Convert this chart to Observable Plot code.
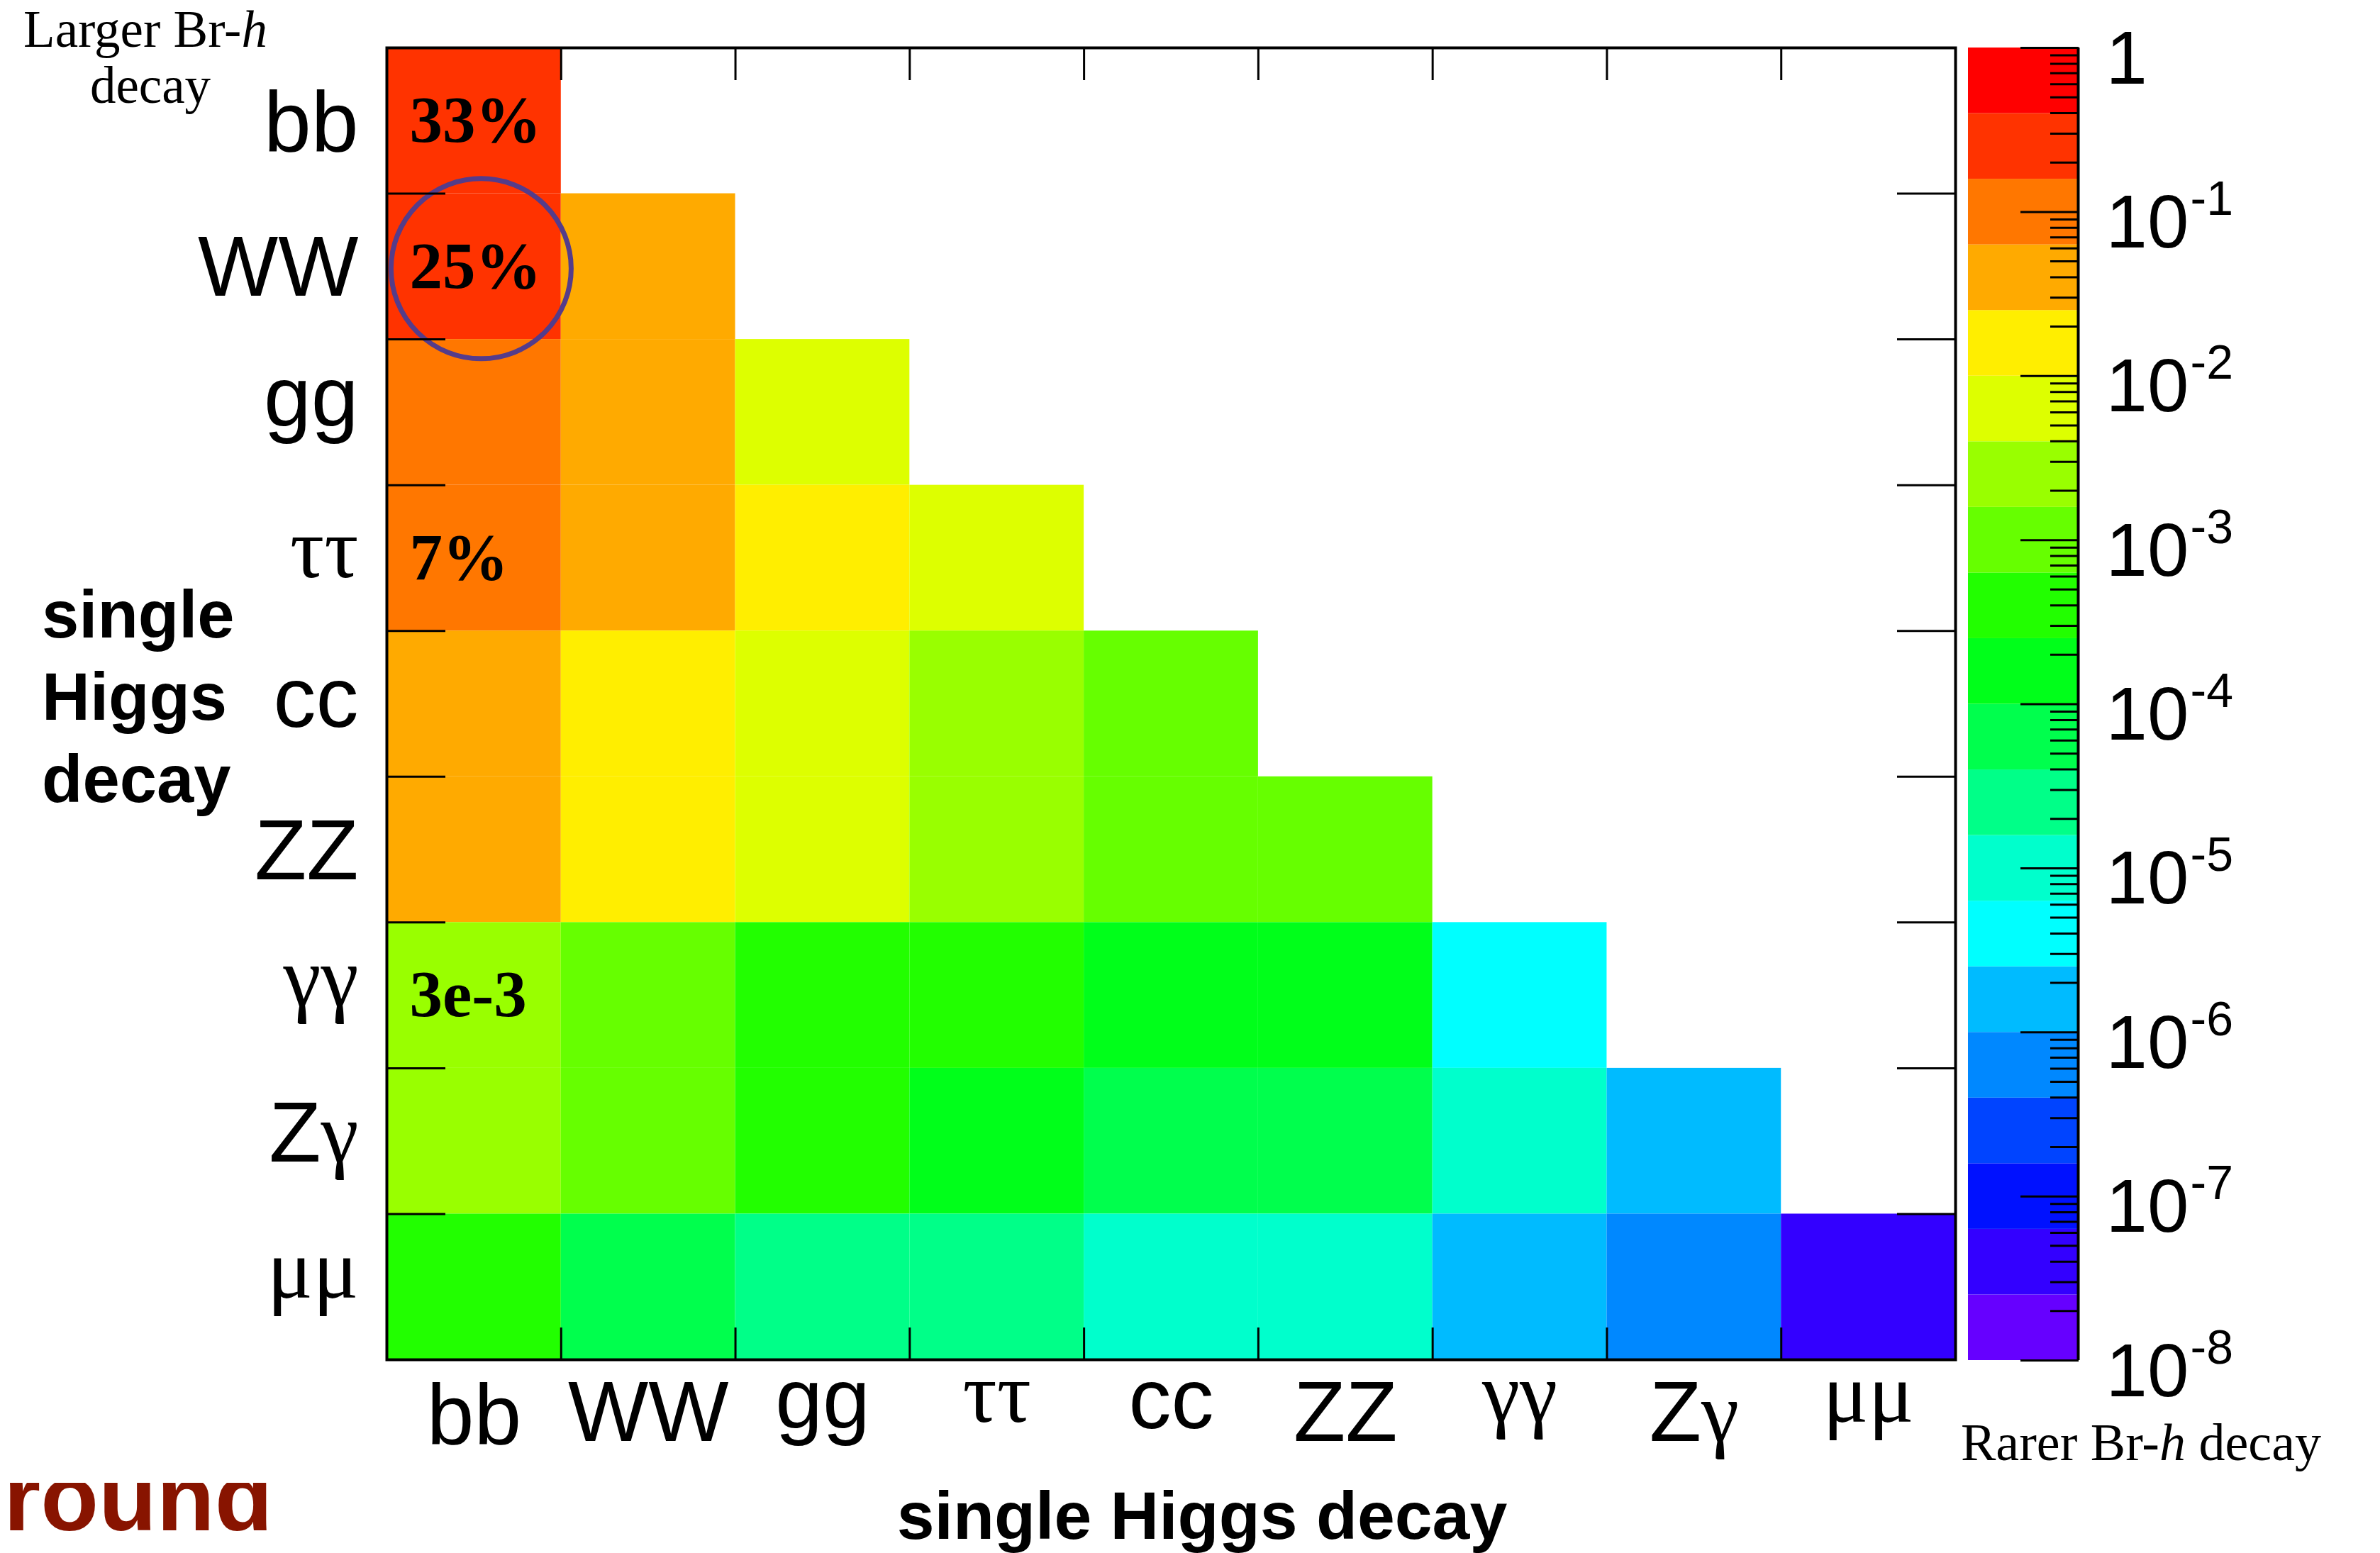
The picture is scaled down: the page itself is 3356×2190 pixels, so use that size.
<!DOCTYPE html>
<html><head><meta charset="utf-8">
<script src="https://cdn.jsdelivr.net/npm/d3@7"></script>
<script src="https://cdn.jsdelivr.net/npm/@observablehq/plot@0.6"></script>
<style>
html,body{margin:0;padding:0;background:#fff;}
#wrap{position:relative;width:3356px;height:2190px;overflow:hidden;background:#fff;}
#wrap svg{position:absolute;left:0;top:0;max-width:none;}
</style></head><body><div id="wrap"></div>
<script>
// ---- data ----
const categories = ["bb","WW","gg","ττ","cc","ZZ","γγ","Zγ","μμ"];
const rowBB     = [0.33];
const rowWW     = [0.25, 0.046];
const rowGG     = [0.095, 0.035, 0.0067];
const rowTauTau = [0.073, 0.027, 0.0103, 0.0042];
const rowCC     = [0.034, 0.0125, 0.0048, 0.0037, 0.00084];
const rowZZ     = [0.030, 0.0112, 0.0043, 0.0033, 0.0015, 0.00068];
const rowGamGam = [0.0027, 0.00099, 0.00038, 0.00029, 0.000133, 0.00012, 0.0000053];
const rowZGam   = [0.0018, 0.00065, 0.00026, 0.00019, 0.000087, 0.000078, 0.0000069, 0.00000225];
const rowMuMu   = [0.000255, 0.000095, 0.000036, 0.000028, 0.0000128, 0.000011, 0.00000105, 0.00000066, 0.000000048];
const cellLabels = [
  {row: 0, col: 0, text: "33%"},
  {row: 1, col: 0, text: "25%"},
  {row: 3, col: 0, text: "7%"},
  {row: 6, col: 0, text: "3e-3"}
];
const circled = [{row: 1, col: 0}];
// colour bins: log10 edges and colours (low -> high)
const binEdgeExponents = [-8,-7.6,-7.2,-6.8,-6.4,-6,-5.6,-5.2,-4.8,-4.4,-4,-3.6,-3.2,-2.8,-2.4,-2,-1.6,-1.2,-0.8,-0.4,0];
const binColors = ["#6600ff","#3300ff","#0011ff","#0044ff","#0088ff","#00bbff","#00ffff","#00ffcc","#00ff88","#00ff4d",
                   "#00ff1a","#22ff00","#66ff00","#99ff00","#ddff00","#ffee00","#ffaa00","#ff7700","#ff3300","#ff0000"];
const colorbarDecades = [0,-1,-2,-3,-4,-5,-6,-7,-8];
const minorMultipliers = [2,3,4,5,6,7,8,9];

// ---- build ----
const rows = [rowBB,rowWW,rowGG,rowTauTau,rowCC,rowZZ,rowGamGam,rowZGam,rowMuMu];
const cells = rows.flatMap((vals,i)=>vals.map((v,j)=>({row:i,col:j,value:v})));
const thresholds = binEdgeExponents.slice(1,-1).map(e=>Math.pow(10,e));
const colorScale = {type:"threshold", domain: thresholds, range: binColors};
const boundaries = d3.range(1, categories.length);
const n = categories.length;
const W = 3356, H = 2190;

const main = Plot.plot({
  width: W, height: H,
  marginTop: 67, marginBottom: 273, marginLeft: 545, marginRight: 599,
  x: {domain: [0, n]},
  y: {domain: [0, n], reverse: true},
  color: colorScale,
  style: {background: "transparent", fontFamily: "Liberation Sans", color: "black"},
  marks: [
    Plot.rect(cells, {x1: "col", x2: d=>d.col+1, y1: "row", y2: d=>d.row+1, fill: "value"}),
    Plot.text(cellLabels, {x: "col", y: d=>d.row+0.5, text: "text", dx: 32, textAnchor: "start",
      fontFamily: "Liberation Serif", fontWeight: "bold", fontSize: 93, fill: "black"}),
    Plot.dot(circled, {x: d=>d.col+0.5, y: d=>d.row+0.5, r: 127, dx: 10, dy: 3,
      stroke: "#553c8a", strokeWidth: 7, fill: "none"}),
    Plot.frame({stroke: "black", strokeWidth: 4}),
    Plot.axisX(boundaries, {anchor: "top", tickSize: 45, dy: 45, strokeWidth: 3, fill: "none", label: null}),
    Plot.axisX(boundaries, {anchor: "bottom", tickSize: 45, dy: -45, strokeWidth: 3, fill: "none", label: null}),
    Plot.axisY(boundaries, {anchor: "left", tickSize: 83, dx: 83, strokeWidth: 3, fill: "none", label: null}),
    Plot.axisY(boundaries, {anchor: "right", tickSize: 83, dx: -83, strokeWidth: 3, fill: "none", label: null}),
    Plot.text(categories, {x: (d,i)=>i+0.5, frameAnchor: "bottom", text: d=>d, textAnchor: "middle",
      fontSize: 120, fill: "black"}),
    Plot.text(categories, {y: (d,i)=>i+0.5, frameAnchor: "left", text: d=>d, textAnchor: "end", dx: -40,
      fontSize: 120, fill: "black"})
  ]
});

const cbBins = binColors.map((c,k)=>({lo: Math.pow(10,binEdgeExponents[k]), hi: Math.pow(10,binEdgeExponents[k+1])}));
const minorTicks = colorbarDecades.slice(1).flatMap(e=>minorMultipliers.map(m=>m*Math.pow(10,e)));
const decadeTicks = colorbarDecades.map(e=>Math.pow(10,e));

const cbar = Plot.plot({
  width: W, height: H,
  marginTop: 67, marginBottom: 272, marginLeft: 2775, marginRight: 426,
  x: {domain: [0, 1], axis: null},
  y: {type: "log", domain: [1e-8, 1]},
  color: colorScale,
  style: {background: "transparent", fontFamily: "Liberation Sans", color: "black"},
  marks: [
    Plot.rect(cbBins, {x1: 0, x2: 1, y1: "lo", y2: "hi", fill: d=>Math.sqrt(d.lo*d.hi)}),
    Plot.axisY(decadeTicks, {anchor: "right", tickSize: 82, dx: -82, strokeWidth: 3, fill: "none", label: null}),
    Plot.axisY(minorTicks, {anchor: "right", tickSize: 40, dx: -40, strokeWidth: 3, fill: "none", label: null}),
    Plot.ruleX([1], {stroke: "black", strokeWidth: 4}),
    Plot.text(colorbarDecades, {y: e=>Math.pow(10,e), frameAnchor: "right", text: e=> e===0 ? "1" : "10",
      textAnchor: "start", lineAnchor: "bottom", dx: 39, dy: 50, fontSize: 105, fill: "black"}),
    Plot.text(colorbarDecades.filter(e=>e!==0), {y: e=>Math.pow(10,e), frameAnchor: "right", text: e=>String(e),
      textAnchor: "start", lineAnchor: "bottom", dx: 158, dy: 4, fontSize: 68, fill: "black"})
  ]
});

const wrap = document.getElementById("wrap");
wrap.appendChild(main);
wrap.appendChild(cbar);

// ---- label post-processing: Greek runs in serif, ink-based alignment ----
const canvas = document.createElement("canvas");
const ctx = canvas.getContext("2d");
const SVGNS = "http://www.w3.org/2000/svg";
function styleLabel(el, size, mode, gap) {
  const s = el.textContent;
  const runs = s.match(/[\u0370-\u03FF]+|[^\u0370-\u03FF]+/g) || [s];
  el.textContent = "";
  let asc = 0, desc = 0;
  for (const r of runs) {
    const greek = /[\u0370-\u03FF]/.test(r);
    const fam = greek ? "Liberation Serif" : "Liberation Sans";
    const ts = document.createElementNS(SVGNS, "tspan");
    ts.setAttribute("font-family", fam);
    ts.textContent = r;
    el.appendChild(ts);
    ctx.font = `${size}px "${fam}"`;
    const m = ctx.measureText(r);
    const a = m.actualBoundingBoxAscent, dd = m.actualBoundingBoxDescent;
    asc = Math.max(asc, isFinite(a) ? a : size * 0.72);
    desc = Math.max(desc, isFinite(dd) ? dd : 0);
  }
  if (mode === "top") el.setAttribute("y", gap + asc);
  else el.setAttribute("y", (asc - desc) / 2);
}
const catSet = new Set(categories);
const labelEls = Array.from(main.querySelectorAll("text")).filter(el => catSet.has(el.textContent));
for (const el of labelEls) {
  const anchor = getComputedStyle(el).textAnchor;
  if (anchor === "end") styleLabel(el, 120, "center", 0);
  else styleLabel(el, 120, "top", 31);
}

// ---- titles and annotations ----
const svg = d3.select(main);
function serifLine(x, y, anchor, size, parts) {
  const t = svg.append("text").attr("x", x).attr("y", y).attr("text-anchor", anchor)
    .attr("font-family", "Liberation Serif").attr("font-size", size).attr("fill", "black");
  for (const [str, italic] of parts) {
    const ts = t.append("tspan").text(str);
    if (italic) ts.attr("font-style", "italic");
  }
}
serifLine(205, 66, "middle", 73, [["Larger Br-", false], ["h", true]]);
serifLine(212, 145, "middle", 73, [["decay", false]]);
serifLine(2765, 2059, "start", 74, [["Rarer Br-", false], ["h", true], [" decay", false]]);

const ytitle = [["single", 899], ["Higgs", 1015], ["decay", 1131]];
for (const [str, y] of ytitle) {
  svg.append("text").attr("x", 59).attr("y", y).attr("text-anchor", "start").attr("font-family", "Liberation Sans")
    .attr("font-weight", "bold").attr("font-size", 94).attr("fill", "black").text(str);
}
svg.append("text").attr("x", 1695).attr("y", 2170).attr("text-anchor", "middle")
  .attr("font-family", "Liberation Sans").attr("font-weight", "bold").attr("font-size", 95)
  .attr("fill", "black").text("single Higgs decay");

const defs = svg.append("defs");
defs.append("clipPath").attr("id", "roundclip").append("rect")
  .attr("x", 0).attr("y", 2091).attr("width", 700).attr("height", 99);
svg.append("text").attr("clip-path", "url(#roundclip)").attr("x", 5).attr("y", 2158).attr("text-anchor", "start")
  .attr("font-family", "Liberation Sans").attr("font-weight", "bold").attr("font-size", 134)
  .attr("fill", "#881400").text("round");
</script>
</body></html>
